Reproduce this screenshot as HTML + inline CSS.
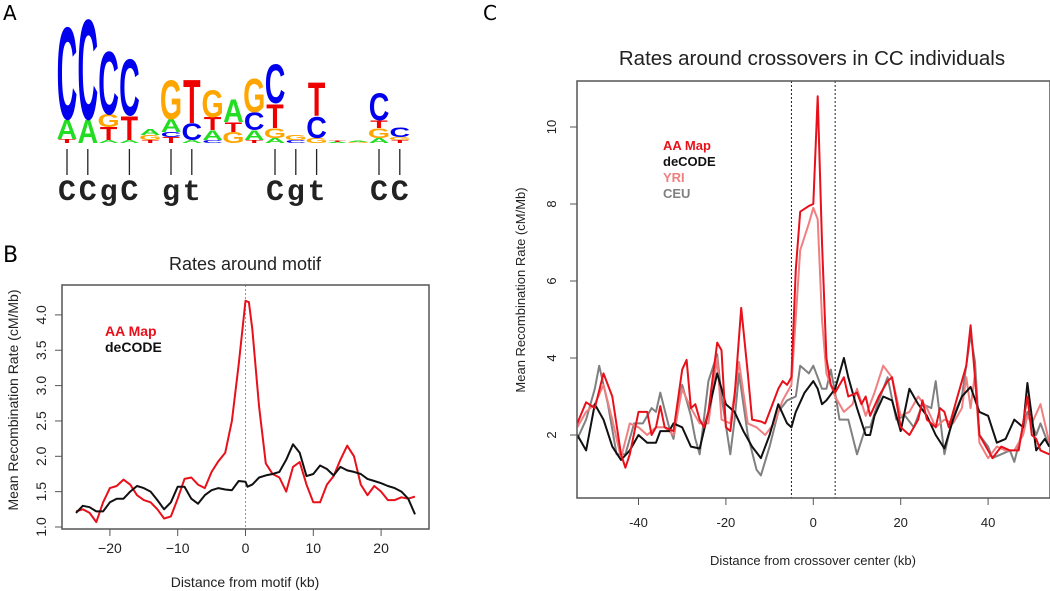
<!DOCTYPE html>
<html><head><meta charset="utf-8"><style>
html,body{margin:0;padding:0;background:#fff}
svg{display:block;font-family:"Liberation Sans",sans-serif}
</style></head><body>
<svg id="fig" width="1050" height="591" viewBox="0 0 1050 591" xmlns="http://www.w3.org/2000/svg">
<text x="3" y="20" font-size="20" font-family="DejaVu Sans,sans-serif">A</text>
<text x="3" y="262" font-size="22" font-family="DejaVu Sans,sans-serif">B</text>
<text x="483" y="20" font-size="20" font-family="DejaVu Sans,sans-serif">C</text>
<g id="logo"></g>
<g id="pb"></g>
<g id="pc"></g>
</svg>
<script>
// ---- Panel A logo data ----
const logoCols = [
 [["T",4],["A",20],["C",95]],
 [["A",24],["C",103]],
 [["A",3],["T",13],["G",13],["C",65]],
 [["A",3],["T",25],["C",58]],
 [["T",3],["G",5],["A",6]],
 [["T",6],["C",5],["A",13],["G",40]],
 [["A",3],["C",17],["T",45]],
 [["C",3],["A",10],["T",13],["G",28]],
 [["G",11],["T",10],["A",23]],
 [["T",3],["A",10],["C",18],["G",35]],
 [["A",5],["G",10],["T",25],["C",40]],
 [["C",3],["G",5]],
 [["G",5],["C",22],["T",35]],
 [["A",1],["T",1]],
 [["G",1],["A",1]],
 [["A",5],["G",10],["T",8],["C",28]],
 [["T",3],["G",3],["C",10]]
];
const consensus = ["C","C","g","C","","g","t","","","","C","g","t","","","C","C"];
const tickCols = [0,1,3,5,6,10,11,12,15,16];
// ---- Panel B data ----
const bX = [-25,-24,-23,-22,-21,-20,-19,-18,-17,-16,-15,-14,-13,-12,-11,-10,-9,-8,-7,-6,-5,-4,-3,-2,-1,0,0.5,1,2,3,4,5,6,7,8,9,10,11,12,13,14,15,16,17,18,19,20,21,22,23,24,25];
const bRed = [1.22,1.25,1.2,1.07,1.35,1.55,1.58,1.67,1.6,1.45,1.38,1.35,1.25,1.12,1.15,1.4,1.68,1.7,1.6,1.55,1.78,1.93,2.05,2.5,3.3,4.2,4.18,3.8,2.7,1.9,1.75,1.7,1.5,1.85,1.92,1.6,1.35,1.35,1.6,1.72,1.95,2.15,2.0,1.6,1.45,1.58,1.5,1.38,1.38,1.42,1.4,1.43];
const bBlackX = [-25,-24,-23,-22,-21,-20,-19,-18,-17,-16,-15,-14,-13,-12,-11,-10,-9,-8,-7,-6,-5,-4,-3,-2,-1,0,0.3,1,2,3,4,5,6,7,8,9,10,11,12,13,14,15,16,17,18,19,20,21,22,23,24,25];
const bBlack = [1.2,1.3,1.28,1.22,1.22,1.35,1.4,1.4,1.5,1.58,1.55,1.5,1.38,1.25,1.35,1.57,1.57,1.4,1.33,1.45,1.52,1.55,1.53,1.52,1.65,1.64,1.57,1.6,1.7,1.73,1.75,1.78,1.95,2.17,2.05,1.72,1.75,1.87,1.82,1.73,1.85,1.8,1.78,1.75,1.68,1.65,1.62,1.58,1.55,1.5,1.4,1.18];
const bXTicks = [-20,-10,0,10,20];
const bYTicks = ["1.0","1.5","2.0","2.5","3.0","3.5","4.0"];
// ---- Panel C data ----
const cRedX = [-54,-52,-50,-48,-46,-44,-43,-42,-40,-38,-37,-36,-35,-34,-32,-30,-29,-28,-27,-26,-25,-24,-22,-21,-20,-19,-18,-16.5,-15,-14,-12,-11,-10,-8,-7,-6,-5,-4,-3,-1,0,1,2,3,4,5,7,8,10,11,12,13,15,17,18,19,20,22,24,25,26,28,29,30,31,33,35,36,37,38,40,41,43,45,47,49,50,51,52,54];
const cRed = [2.3,2.85,2.7,3.6,3.0,1.5,1.15,1.5,2.6,2.6,2.0,2.2,2.75,2.2,2.1,3.7,3.95,2.7,2.8,2.4,2.2,2.6,4.4,4.2,2.2,2.1,3.0,5.3,3.6,2.4,2.35,2.3,2.6,3.2,3.4,3.3,3.5,6.3,7.8,7.95,8.0,10.8,7.0,4.0,3.3,3.1,3.5,3.0,3.1,2.8,3.0,2.5,3.0,3.4,3.5,2.9,2.2,2.0,2.4,2.9,2.4,2.2,2.7,2.6,2.2,3.0,3.8,4.85,3.5,2.0,1.6,1.4,1.7,1.6,1.6,3.0,2.0,1.9,1.6,1.5];
const cBlackX = [-54,-52,-50,-48,-46,-44,-42,-40,-38,-36,-35,-33,-32,-30,-28,-26,-24,-22,-20,-18,-16,-14,-12,-10,-8,-6,-5,-4,-2,0,1,2,3,5,6,7,8,10,12,13,14,16,18,20,22,24,26,28,30,32,34,36,38,40,42,44,46,48,49,51,53,54];
const cBlack = [2.0,1.6,2.8,2.4,1.7,1.35,1.6,2.0,1.8,1.8,2.1,2.1,2.3,2.2,1.7,1.65,2.6,3.6,2.8,2.6,2.1,1.7,1.4,2.0,2.8,2.3,2.2,2.6,3.1,3.4,3.2,2.8,2.9,3.2,3.6,4.0,3.5,2.7,2.0,2.0,2.5,3.0,2.9,2.1,3.2,2.8,2.5,2.0,1.65,2.4,3.0,3.25,2.6,2.5,1.8,1.9,2.4,2.2,3.35,1.6,1.9,1.7];
const cYriX = [-54,-52,-50,-48,-46,-44,-42,-40,-38,-36,-34,-32,-30,-28,-26,-24,-22,-21,-19,-17,-15,-13,-11,-9,-7,-5,-3,-1,0,1,2,3,5,7,9,10,12,14,16,18,20,22,24,26,28,30,32,34,35,36,37,38,40,42,44,46,48,49,50,52,54];
const cYri = [2.2,2.6,2.8,3.3,2.4,1.4,2.3,2.2,2.0,2.2,2.2,2.0,3.2,2.7,2.3,2.3,4.0,2.4,2.3,3.9,2.3,2.2,2.0,2.3,2.9,3.3,6.8,7.5,7.9,7.6,5.0,3.6,3.0,2.6,2.8,3.2,2.5,3.1,3.8,3.5,2.5,2.6,3.0,2.7,2.2,2.4,2.3,2.7,3.5,2.7,3.6,1.8,1.4,1.7,1.6,1.6,2.0,2.5,2.3,2.8,1.8];
const cCeuX = [-54,-52,-50,-49,-47,-45,-43,-41,-39,-37,-36,-35,-33,-32,-30,-28,-27,-26,-24,-22,-21,-19,-18,-17,-15,-13,-12,-10,-8,-6,-4,-3,-1,0,1,2,3,4,5,6,8,10,12,13,15,17,19,21,23,25,27,28,30,32,34,36,37,38,40,41,43,45,46,48,49,51,52,54];
const cCeu = [1.9,2.4,3.2,3.8,2.8,1.5,1.5,2.3,2.3,2.7,2.6,3.1,2.2,1.9,3.3,2.5,1.9,1.5,3.4,4.1,3.0,1.5,2.4,3.6,2.0,1.1,0.95,1.7,2.6,2.9,3.0,3.8,3.6,3.8,3.5,3.2,3.2,3.7,3.1,2.4,2.4,1.5,2.2,2.2,2.9,3.5,2.4,2.5,2.2,2.8,2.7,3.4,1.5,2.5,3.0,4.6,3.9,2.0,1.7,1.4,1.5,1.6,1.3,2.2,2.6,2.0,2.3,1.7];
const cXTicks = [-40,-20,0,20,40];
const cYTicks = [2,4,6,8,10];

const NS="http://www.w3.org/2000/svg";
function mk(parent, tag, attrs, text){
  const e=document.createElementNS(NS,tag);
  for(const k in attrs) e.setAttribute(k,attrs[k]);
  if(text!==undefined) e.textContent=text;
  parent.appendChild(e); return e;
}
// ---- Logo ----
const logo=document.getElementById('logo');
const colors={A:"#22dd22",C:"#0000ee",G:"#ffa500",T:"#ee0000"};
const colX=i=>67+i*20.8, logoBase=143;
logoCols.forEach((stack,i)=>{
  let y=logoBase;
  stack.forEach(([L,h])=>{
    const t=mk(logo,'text',{x:0,y:0,'font-size':100,'font-weight':'bold','text-anchor':'middle',fill:colors[L],
      transform:`translate(${colX(i)},${y}) scale(${20/70},${h/72})`},L);
    
    
    y-=h;
  });
});
tickCols.forEach(i=>{
  const l=mk(logo,'line',{x1:colX(i),x2:colX(i),y1:149,y2:175,stroke:'#222','stroke-width':1.3});
  
  
});
consensus.forEach((c,i)=>{ if(!c) return;
  const t=mk(logo,'text',{x:colX(i),y:200,'font-size':30,'font-weight':'bold','text-anchor':'middle','font-family':'Liberation Mono,monospace',fill:'#222'},c);
  
  
});
// ---- generic chart ----
function chart(g,o){
  const sx=v=>o.x0+(v-o.xmin)*o.kx, sy=v=>o.y0-(v-o.ymin)*o.ky;
  const t=mk(g,'text',{x:o.tx,y:o.ty,'font-size':o.tfs,'text-anchor':'middle',fill:'#222'},o.title);
  
  
  o.vlines.forEach(v=>{
    const l=mk(g,'line',{x1:sx(v),x2:sx(v),y1:o.top,y2:o.bottom,stroke:o.vcol,'stroke-width':1,'stroke-dasharray':'2,2'});
    
    
  });
  o.series.forEach(s=>{
    const pts=s.x.map((v,i)=>sx(v).toFixed(1)+','+sy(s.y[i]).toFixed(1)).join(' ');
    const p=mk(g,'polyline',{points:pts,fill:'none',stroke:s.c,'stroke-width':2,'stroke-linejoin':'round'});
    
    
  });
  const box=mk(g,'rect',{x:o.left,y:o.top,width:o.right-o.left,height:o.bottom-o.top,fill:'none',stroke:'#555','stroke-width':1.5});
  
  
  o.xt.forEach(v=>{
    mk(g,'line',{x1:sx(v),x2:sx(v),y1:o.bottom,y2:o.bottom+7,stroke:'#555'});
    const l=mk(g,'text',{x:sx(v),y:o.bottom+o.xlo,'font-size':o.fs,'text-anchor':'middle',fill:'#222'},v<0?'\u2212'+(-v):String(v));
    if(o.plainMinus) l.textContent=String(v);
    
    
  });
  o.yt.forEach(v=>{
    const y=sy(parseFloat(v));
    mk(g,'line',{x1:o.left-7,x2:o.left,y1:y,y2:y,stroke:'#555'});
    const l=mk(g,'text',{x:0,y:0,'font-size':o.fs,'text-anchor':'middle',fill:'#222',transform:`translate(${o.left-o.ylo},${y}) rotate(-90)`},String(v));
    
    
  });
  const xl=mk(g,'text',{x:o.xlx,y:o.xly,'font-size':o.lfs,'text-anchor':'middle',fill:'#222'},o.xlabel);
  
  
  const yl=mk(g,'text',{x:0,y:0,'font-size':o.lfs,'text-anchor':'middle',fill:'#222',transform:`translate(${o.ylx},${o.yly}) rotate(-90)`},o.ylabel);
  
  
  o.legend.forEach((e,i)=>{
    const l=mk(g,'text',{x:o.lgx,y:o.lgy+i*o.lgd,'font-size':o.lgfs,'font-weight':'bold',fill:e[1]},e[0]);
    
    
  });
}
chart(document.getElementById('pb'),{
  xmin:0,x0:245.5,kx:6.78,ymin:1,y0:527,ky:70.7,left:62,right:429,top:285,bottom:529,
  title:"Rates around motif",tx:245,ty:270,tfs:18,vlines:[0],vcol:'#6aa0c8',
  series:[{x:bX,y:bRed,c:'#e8101a',name:'aa-map-line'},{x:bBlackX,y:bBlack,c:'#111',name:'decode-line'}],
  xt:bXTicks,yt:bYTicks,fs:14,xlo:24,ylo:16,
  xlabel:"Distance from motif (kb)",xlx:245,xly:587,ylabel:"Mean Recombination Rate (cM/Mb)",ylx:18,yly:400,lfs:14,
  legend:[["AA Map","#e8101a"],["deCODE","#111"]],lgx:105,lgy:336,lgd:16,lgfs:14
});
chart(document.getElementById('pc'),{
  xmin:0,x0:813.3,kx:4.37,ymin:2,y0:435,ky:38.5,left:577,right:1050,top:81,bottom:498,
  title:"Rates around crossovers in CC individuals",tx:812,ty:65,tfs:20.5,vlines:[-5,5],vcol:'#222',
  series:[{x:cCeuX,y:cCeu,c:'#808080',name:'ceu-line'},{x:cYriX,y:cYri,c:'#f07f80',name:'yri-line'},
          {x:cBlackX,y:cBlack,c:'#111',name:'decode-line'},{x:cRedX,y:cRed,c:'#e8101a',name:'aa-map-line'}],
  xt:cXTicks,yt:cYTicks,fs:13,xlo:29,ylo:21,plainMinus:true,
  xlabel:"Distance from crossover center (kb)",xlx:813,xly:565,ylabel:"Mean Recombination Rate (cM/Mb)",ylx:525,yly:290,lfs:13,
  legend:[["AA Map","#e8101a"],["deCODE","#111"],["YRI","#f07f80"],["CEU","#808080"]],lgx:663,lgy:150,lgd:16,lgfs:13
});
</script>
</body></html>
